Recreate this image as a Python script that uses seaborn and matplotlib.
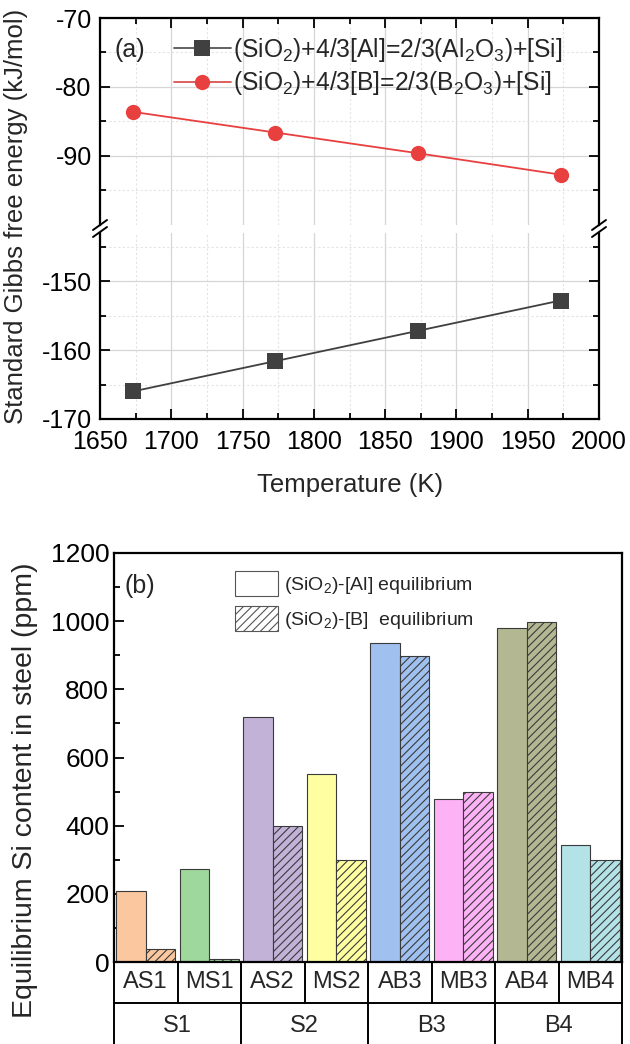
import matplotlib
matplotlib.use("Agg")
import matplotlib.pyplot as plt
import matplotlib.transforms as mtransforms
from matplotlib.lines import Line2D
from matplotlib.patches import Patch
from matplotlib.ticker import MultipleLocator, FixedLocator
import pandas as pd
import seaborn as sns

# ---------------- data ----------------
temperature = [1673, 1773, 1873, 1973]
dg_al = [-166.0, -161.6, -157.2, -152.8]
dg_b = [-83.6, -86.6, -89.6, -92.7]
reaction_al = r"(SiO$_2$)+4/3[Al]=2/3(Al$_2$O$_3$)+[Si]"
reaction_b = r"(SiO$_2$)+4/3[B]=2/3(B$_2$O$_3$)+[Si]"

samples = ["AS1", "MS1", "AS2", "MS2", "AB3", "MB3", "AB4", "MB4"]
groups = ["S1", "S2", "B3", "B4"]
si_al = [207, 273, 718, 552, 935, 478, 980, 342]
si_b = [39, 9, 399, 299, 898, 498, 999, 299]
bar_colors = ["#FAC79E", "#9FD89D", "#C2B2D8", "#FFFFA2",
              "#A0C1F0", "#FDB2F6", "#B3B892", "#B3E2E7"]
eq_al = r"(SiO$_2$)-[Al] equilibrium"
eq_b = r"(SiO$_2$)-[B]  equilibrium"

# ---------------- style ----------------
sns.set_style("white")
plt.rcParams["font.family"] = ["Liberation Sans", "DejaVu Sans"]
plt.rcParams["mathtext.fontset"] = "custom"
plt.rcParams["mathtext.rm"] = "Liberation Sans"
plt.rcParams["mathtext.it"] = "Liberation Sans"
plt.rcParams["mathtext.default"] = "regular"
plt.rcParams["axes.unicode_minus"] = False
plt.rcParams["hatch.linewidth"] = 0.8

W, H = 630, 1044
fig = plt.figure(figsize=(W / 100, H / 100), dpi=100)


def box(l, t, r, b):
    return [l / W, 1 - b / H, (r - l) / W, (b - t) / H]


ax_up = fig.add_axes(box(100, 18, 599, 225))
ax_lo = fig.add_axes(box(100, 233, 599, 419))
ax_bar = fig.add_axes(box(114, 553, 622, 962))

# ---------------- panel (a) ----------------
df_line = pd.DataFrame({
    "T": temperature * 2,
    "dG": dg_al + dg_b,
    "reaction": [reaction_al] * 4 + [reaction_b] * 4,
})
pal = {reaction_al: "#404040", reaction_b: "#E8403F"}
mk = {reaction_al: "s", reaction_b: "o"}
line_col = {reaction_al: "#555555", reaction_b: "#D9534F"}
for ax in (ax_up, ax_lo):
    sns.lineplot(data=df_line, x="T", y="dG", hue="reaction", style="reaction",
                 markers=mk, dashes=False, palette=pal, markersize=11,
                 markeredgewidth=0, linewidth=1.3, legend=False, ax=ax,
                 zorder=3)
    ax.set_xlim(1650, 2000)
    ax.xaxis.set_major_locator(MultipleLocator(50))
    ax.xaxis.set_minor_locator(MultipleLocator(25))
    ax.grid(which="major", color="#d6d6d6", linewidth=0.9)
    ax.grid(which="minor", color="#e3e3e3", linewidth=0.8, linestyle=(0, (2, 2)))
    ax.set_xlabel("")
    ax.set_ylabel("")
    for s in ax.spines.values():
        s.set_linewidth(1.6)
        s.set_color("black")
    ax.tick_params(which="both", direction="in", width=1.3, colors="black",
                   labelsize=18, left=True, right=True)
    ax.tick_params(which="major", length=7)
    ax.tick_params(which="minor", length=4)
    ax.tick_params(axis="y", pad=6)

ax_up.set_ylim(-100, -70)
ax_up.yaxis.set_major_locator(FixedLocator([-90, -80, -70]))
ax_up.yaxis.set_minor_locator(FixedLocator([-95, -85, -75]))
ax_up.spines["bottom"].set_visible(False)
ax_up.tick_params(which="both", bottom=False, top=True, labelbottom=False)

ax_lo.set_ylim(-170, -143)
ax_lo.yaxis.set_major_locator(FixedLocator([-170, -160, -150]))
ax_lo.yaxis.set_minor_locator(FixedLocator([-165, -155, -145]))
ax_lo.spines["top"].set_visible(False)
ax_lo.tick_params(which="both", bottom=True, top=False, labelbottom=True)
ax_lo.tick_params(axis="x", pad=8)

# break marks
for xp in (100, 599):
    for yp in (225, 232):
        fig.add_artist(Line2D([(xp - 7) / W, (xp + 7) / W],
                              [1 - (yp + 5) / H, 1 - (yp - 5) / H],
                              color="black", linewidth=1.4,
                              transform=fig.transFigure))

fig.text(16 / W, 1 - 216 / H, "Standard Gibbs free energy (kJ/mol)",
         rotation=90, ha="center", va="center", fontsize=18.5)
fig.text(350 / W, 1 - 485 / H, "Temperature (K)", ha="center", va="center",
         fontsize=18.5)
fig.text(114 / W, 1 - 50 / H, "(a)", ha="left", va="center", fontsize=18)

handles_a = [Line2D([], [], color=line_col[r], marker=mk[r], markersize=11,
                    markerfacecolor=pal[r], markeredgewidth=0, linewidth=1.3)
             for r in (reaction_al, reaction_b)]
fig.legend(handles_a, [reaction_al, reaction_b], loc="upper left",
           bbox_to_anchor=(174 / W, 1 - 36 / H), frameon=False, fontsize=17.7,
           handlelength=2.3, handletextpad=0.12, labelspacing=0.22,
           borderaxespad=0, borderpad=0)

# ---------------- panel (b) ----------------
df_bar = pd.DataFrame({
    "sample": samples * 2,
    "Si": si_al + si_b,
    "eq": ["Al"] * len(samples) + ["B"] * len(samples),
})
sns.barplot(data=df_bar, x="sample", y="Si", hue="eq", order=samples,
            hue_order=["Al", "B"], palette=["white", "white"], width=0.93,
            gap=0, edgecolor="#3a3a3a", linewidth=0.8, legend=False,
            ax=ax_bar, zorder=2)
for ci, cont in enumerate(ax_bar.containers):
    for i, bar in enumerate(cont):
        bar.set_facecolor(bar_colors[i])
        bar.set_edgecolor("#3a3a3a")
        if ci == 1:
            bar.set_hatch("////")

ax_bar.set_xlim(-0.5, len(samples) - 0.5)
ax_bar.set_ylim(0, 1200)
ax_bar.yaxis.set_major_locator(MultipleLocator(200))
ax_bar.yaxis.set_minor_locator(MultipleLocator(100))
ax_bar.set_xticks([])
ax_bar.set_xlabel("")
ax_bar.set_ylabel("")
for s in ax_bar.spines.values():
    s.set_linewidth(1.6)
    s.set_color("black")
ax_bar.tick_params(axis="y", which="both", direction="in", left=True,
                   width=1.3, labelsize=19, colors="black")
ax_bar.tick_params(axis="y", which="major", length=7)
ax_bar.tick_params(axis="y", which="minor", length=4)

# category table under the axis
trans = mtransforms.blended_transform_factory(ax_bar.transData, ax_bar.transAxes)
r1 = -41 / 409
r2 = -88 / 409
n = len(samples)
ax_bar.plot([-0.5, n - 0.5], [r1, r1], color="black", lw=1.4,
            transform=trans, clip_on=False)
for k in range(n + 1):
    ax_bar.plot([k - 0.5, k - 0.5], [0, r1], color="black", lw=1.4,
                transform=trans, clip_on=False)
for g in range(len(groups) + 1):
    ax_bar.plot([2 * g - 0.5, 2 * g - 0.5], [r1, r2], color="black", lw=1.4,
                transform=trans, clip_on=False)
for i, s in enumerate(samples):
    ax_bar.text(i, r1 / 2, s, transform=trans, ha="center", va="center",
                fontsize=17)
for g, s in enumerate(groups):
    ax_bar.text(2 * g + 0.5, (r1 + r2) / 2, s, transform=trans, ha="center",
                va="center", fontsize=17)

fig.text(25 / W, 1 - 790 / H, "Equilibrium Si content in steel (ppm)",
         rotation=90, ha="center", va="center", fontsize=20.5)
fig.text(124 / W, 1 - 586 / H, "(b)", ha="left", va="center", fontsize=18)

handles_b = [Patch(facecolor="white", edgecolor="#555555", linewidth=0.8),
             Patch(facecolor="white", edgecolor="#555555", linewidth=0.8,
                   hatch="////")]
fig.legend(handles_b, [eq_al, eq_b], loc="upper left",
           bbox_to_anchor=(235 / W, 1 - 571 / H), frameon=False, fontsize=14,
           handlelength=2.2, handleheight=1.6, handletextpad=0.3,
           labelspacing=0.5, borderaxespad=0, borderpad=0)

fig.savefig("out.png", dpi=100)
